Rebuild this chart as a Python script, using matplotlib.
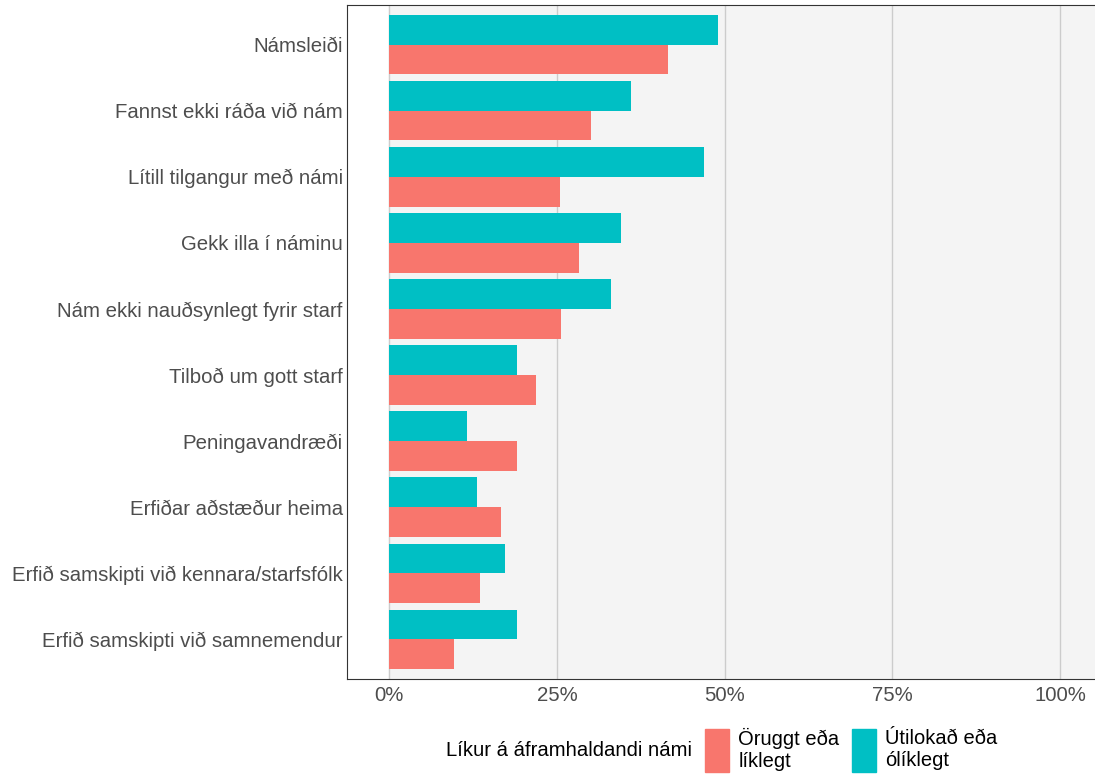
import matplotlib.pyplot as plt
from matplotlib.patches import Patch
from matplotlib.ticker import PercentFormatter

plt.rcParams['font.family'] = ['Liberation Sans', 'DejaVu Sans']

# Gögn lesin af myndinni
astaedur = ['Námsleiði', 'Fannst ekki ráða við nám', 'Lítill tilgangur með námi',
            'Gekk illa í náminu', 'Nám ekki nauðsynlegt fyrir starf', 'Tilboð um gott starf',
            'Peningavandræði', 'Erfiðar aðstæður heima',
            'Erfið samskipti við kennara/starfsfólk', 'Erfið samskipti við samnemendur']
oruggt = [41.6, 30.0, 25.5, 28.3, 25.6, 21.9, 19.1, 16.7, 13.6, 9.7]
utilokad = [49.0, 36.1, 46.9, 34.6, 33.1, 19.1, 11.6, 13.1, 17.3, 19.1]
flokkar = ['Öruggt eða\nlíklegt', 'Útilokað eða\nólíklegt']
litir = ['#F8766D', '#00BFC4']

fig = plt.figure(figsize=(10.95, 7.76), dpi=100)
ax = fig.add_axes([347 / 1095, 1 - 679 / 776, 1 - 347 / 1095, (679 - 5) / 776])

ypos = list(range(len(astaedur)))
ax.barh([y + 0.225 for y in ypos], [v / 100 for v in oruggt], height=0.45, color=litir[0], zorder=3)
ax.barh([y - 0.225 for y in ypos], [v / 100 for v in utilokad], height=0.45, color=litir[1], zorder=3)

ax.set_xlim(-0.063, 1.052)
ax.set_ylim(len(astaedur) - 0.4, -0.6)
ax.axvspan(0, 1.052, color='#F4F4F4', zorder=0)
ax.set_xticks([0, 0.25, 0.5, 0.75, 1.0])
ax.xaxis.set_major_formatter(PercentFormatter(1.0, decimals=0))
ax.grid(axis='x', color='#CCCCCC', linewidth=1, zorder=1)
ax.set_yticks(ypos)
ax.set_yticklabels(astaedur)
ax.tick_params(axis='both', length=0, labelsize=14.7, labelcolor='#4D4D4D')
ax.tick_params(axis='y', pad=3)
ax.tick_params(axis='x', pad=5)
for s in ['left', 'bottom', 'top']:
    ax.spines[s].set_color('#333333')
ax.spines['right'].set_visible(False)

fig.text(446 / 1095, 1 - 750 / 776, 'Líkur á áframhaldandi námi', fontsize=14.6, va='center', ha='left')
handles = [Patch(color=litir[0]), Patch(color=litir[1])]
leg = fig.legend(handles, flokkar, ncol=2, loc='center left', bbox_to_anchor=(687 / 1095, 1 - 750 / 776),
                 frameon=False, fontsize=14.5, handlelength=1.2, handleheight=2.9, handletextpad=0.45,
                 columnspacing=0.6, labelspacing=0)
for t in leg.get_texts():
    t.set_linespacing(1.2)

fig.savefig('out.png', dpi=100)
